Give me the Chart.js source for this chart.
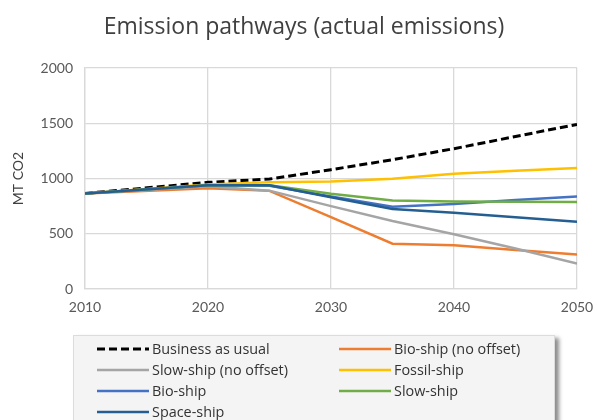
<!DOCTYPE html>
<html>
<head>
<meta charset="utf-8">
<script src="https://cdn.jsdelivr.net/npm/chart.js@4.4.1/dist/chart.umd.min.js"></script>
<style>
  html, body { margin: 0; padding: 0; background: #fff; overflow: hidden; }
  #wrap { position: relative; width: 597px; height: 420px; }
  #chart-box { position: absolute; left: 0; top: 0; width: 597px; height: 420px; }
  #title {
    position: absolute; left: 0; top: 11px; width: 608px; text-align: center;
    font-family: "Open Sans", Lato, sans-serif; font-size: 23px; line-height: 28px;
    color: #404040;
  }
  #legend {
    position: absolute; left: 73px; top: 335px; width: 482px; height: 110px;
    background: #f4f4f4; border: 1px solid #dcdcdc; box-sizing: border-box;
    box-shadow: 4px 3px 4px rgba(0,0,0,0.45);
    display: grid; grid-template-columns: 242px 216px; grid-auto-rows: 21px;
    padding: 2px 0 0 23px;
    font-family: "Open Sans", Lato, sans-serif; font-size: 14.4px; color: #333;
  }
  .item { display: flex; align-items: center; white-space: nowrap; }
  .item svg { width: 52px; height: 6px; margin-right: 3px; flex: none; }
</style>
</head>
<body>
<div id="wrap">
  <div id="chart-box"><canvas id="c"></canvas></div>
  <div id="title">Emission pathways (actual emissions)</div>
  <div id="legend"></div>
</div>
<script>
// Years with recorded values
const years = [2010, 2020, 2025, 2030, 2035, 2040, 2045, 2050];

// Emissions per pathway, MT CO2
const businessAsUsual = [865, 965, 995, 1080, 1170, 1270, 1380, 1490];
const bioShipNoOffset = [865, 912, 888, 650, 410, 395, 352, 313];
const slowShipNoOffset = [865, 930, 890, 750, 615, 495, 367, 231];
const fossilShip = [865, 945, 965, 972, 997, 1043, 1070, 1095];
const bioShip = [865, 940, 935, 838, 745, 770, 806, 836];
const slowShip = [865, 940, 940, 862, 800, 791, 789, 788];
const spaceShip = [865, 940, 938, 830, 724, 691, 649, 609];

// Axis ticks
const xTicks = [2010, 2020, 2030, 2040, 2050];
const yTicks = [0, 500, 1000, 1500, 2000];

const series = [
  { label: 'Business as usual', values: businessAsUsual, color: '#000000', dash: [8, 4] },
  { label: 'Bio-ship (no offset)', values: bioShipNoOffset, color: '#ED7D31' },
  { label: 'Slow-ship (no offset)', values: slowShipNoOffset, color: '#A5A5A5' },
  { label: 'Fossil-ship', values: fossilShip, color: '#FFC000' },
  { label: 'Bio-ship', values: bioShip, color: '#4472C4' },
  { label: 'Slow-ship', values: slowShip, color: '#70AD47' },
  { label: 'Space-ship', values: spaceShip, color: '#255E91' }
];

const datasets = series.map((s, i) => ({
  label: s.label,
  data: years.map((yr, k) => ({ x: yr, y: s.values[k] })),
  borderColor: s.color,
  backgroundColor: s.color,
  borderDash: s.dash || [],
  borderWidth: s.dash ? 3 : 2.5,
  pointRadius: 0,
  tension: 0,
  fill: false,
  order: series.length - i
}));

const tickFont = { family: 'Lato, "Open Sans", sans-serif', size: 14 };
const gridColor = '#d9d9d9';

const chart = new Chart(document.getElementById('c'), {
  type: 'line',
  data: { datasets },
  options: {
    responsive: true,
    maintainAspectRatio: false,
    animation: false,
    layout: { padding: { top: 68, right: 20, bottom: 101, left: 0 } },
    plugins: {
      legend: { display: false },
      title: { display: false },
      tooltip: { enabled: false }
    },
    scales: {
      x: {
        type: 'linear',
        min: xTicks[0],
        max: xTicks[xTicks.length - 1],
        afterBuildTicks: axis => { axis.ticks = xTicks.map(v => ({ value: v })); },
        afterFit: axis => { axis.height = 30; axis.paddingLeft = 0; axis.paddingRight = 0; },
        ticks: { font: tickFont, color: '#595959', padding: 10, callback: v => String(v) },
        grid: { color: gridColor, lineWidth: 1.3, drawTicks: false },
        border: { color: gridColor, width: 1.3 }
      },
      y: {
        min: yTicks[0],
        max: yTicks[yTicks.length - 1],
        afterBuildTicks: axis => { axis.ticks = yTicks.map(v => ({ value: v })); },
        afterFit: axis => { axis.width = 85; },
        ticks: { font: tickFont, color: '#595959', padding: 12, callback: v => String(v) },
        grid: { color: gridColor, lineWidth: 1.3, drawTicks: false },
        border: { color: gridColor, width: 1.3 },
        title: {
          display: true, text: 'MT CO2', color: '#404040',
          font: tickFont, padding: { top: 10, bottom: 0 }
        }
      }
    }
  }
});

// Legend built from the chart's datasets, two columns, row by row
const legend = document.getElementById('legend');
chart.data.datasets.forEach(ds => {
  const item = document.createElement('div');
  item.className = 'item';
  const dash = ds.borderDash && ds.borderDash.length ? ' stroke-dasharray="' + ds.borderDash.join(' ') + '"' : '';
  item.innerHTML =
    '<svg viewBox="0 0 52 6"><line x1="0" y1="3" x2="52" y2="3" stroke="' + ds.borderColor +
    '" stroke-width="' + ds.borderWidth + '"' + dash + '/></svg><span></span>';
  item.querySelector('span').textContent = ds.label;
  legend.appendChild(item);
});
</script>
</body>
</html>
